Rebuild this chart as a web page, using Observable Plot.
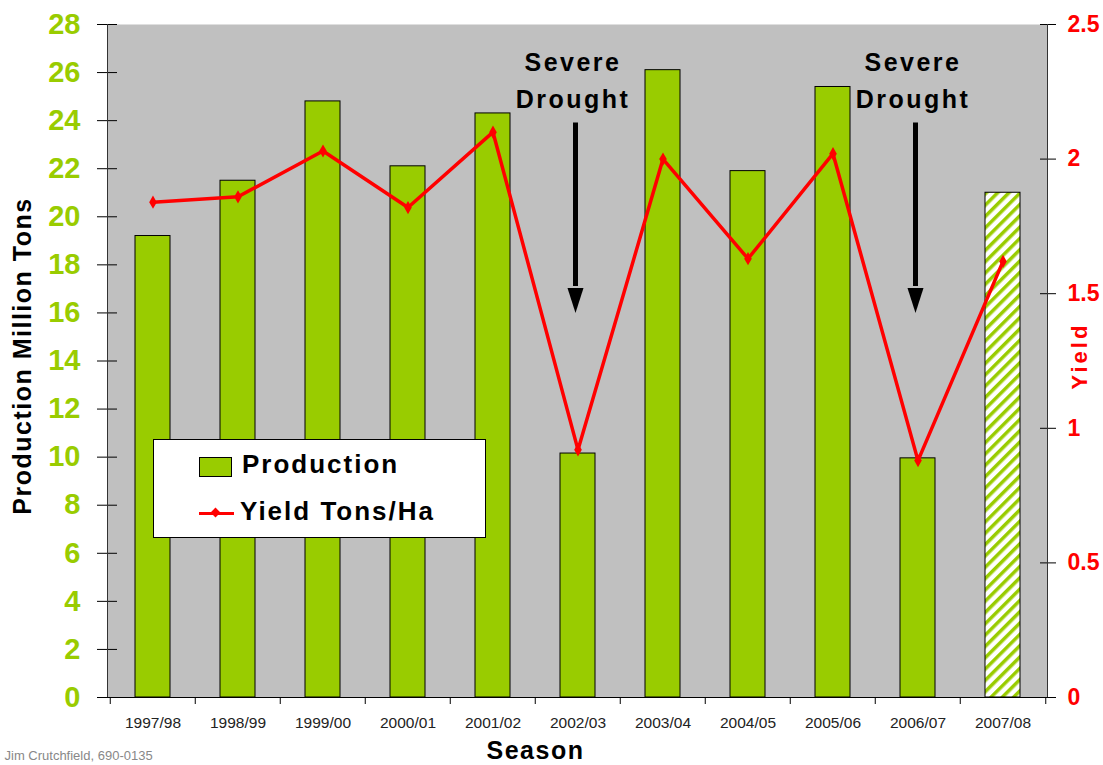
<!DOCTYPE html>
<html><head><meta charset="utf-8">
<script src="https://cdn.jsdelivr.net/npm/d3@7"></script>
<script src="https://cdn.jsdelivr.net/npm/@observablehq/plot@0.6"></script>
<style>
body{margin:0;background:#fff;font-family:"Liberation Sans",Arial,sans-serif;}
#wrap{position:relative;width:1103px;height:765px;overflow:hidden}
#legend{position:absolute;left:153px;top:439px;width:331px;height:97px;border:1px solid #000;background:#fff;font-weight:bold;font-size:26px;letter-spacing:2px;color:#000}
#legend .sw{position:absolute;left:45px;top:17px;width:31px;height:18px;background:#99cc00;border:1px solid #000}
#legend .ln{position:absolute;left:45px;top:72px;width:35px;height:3px;background:#ff0000}
#legend .mk{position:absolute;left:58px;top:69px;width:7px;height:7px;background:#ff0000;transform:rotate(45deg)}
#legend .t1{position:absolute;left:88px;top:9px;line-height:30px}
#legend .t2{position:absolute;left:86px;top:56px;line-height:30px}
</style></head><body>
<div id="wrap"><div id="chart"></div>
<div id="legend"><div class="sw"></div><div class="t1">Production</div><div class="ln"></div><div class="mk"></div><div class="t2">Yield Tons/Ha</div></div>
</div>
<script>
// ---- data ----
const seasons = ["1997/98","1998/99","1999/00","2000/01","2001/02","2002/03","2003/04","2004/05","2005/06","2006/07","2007/08"];
const production = [19.2, 21.5, 24.8, 22.1, 24.3, 10.15, 26.1, 21.9, 25.4, 9.95, 21.0];
const yieldValues = [1.84, 1.86, 2.03, 1.82, 2.10, 0.92, 2.00, 1.63, 2.02, 0.88, 1.62];
const estimatedSeasons = ["2007/08"];
const productionTicks = [0, 2, 4, 6, 8, 10, 12, 14, 16, 18, 20, 22, 24, 26, 28];
const yieldTicks = [0, 0.5, 1, 1.5, 2, 2.5];
const productionMax = 28;
const yieldMax = 2.5;
const droughtSeasons = ["2002/03", "2006/07"];
const droughtText = "Severe\nDrought";
const droughtTextLevel = 25.8;   // in production units
const arrowTop = 23.9;
const arrowHeadBase = 17.1;
const arrowTip = 16.0;
const credit = "Jim Crutchfield, 690-0135";

// ---- derived tables ----
const k = productionMax / yieldMax;
const table = seasons.map((s, i) => ({season: s, production: production[i], yield: yieldValues[i], estimated: estimatedSeasons.includes(s)}));
const actual = table.filter(d => !d.estimated);
const estimated = table.filter(d => d.estimated);
const drought = droughtSeasons.map(s => ({season: s, text: droughtText, top: arrowTop, base: arrowHeadBase, tip: arrowTip, level: droughtTextLevel}));

const arrowHead = {draw(ctx) { ctx.moveTo(-8, -25); ctx.lineTo(8, -25); ctx.lineTo(0, 0); ctx.closePath(); }};
const green = "#99cc00", grey = "#c0c0c0", red = "#ff0000";
const font = "Liberation Sans, Arial, sans-serif";
const fmt = d => d3.format("~g")(+(d / k).toFixed(3));

const chart = Plot.plot({
  width: 1103, height: 765,
  marginTop: 24, marginBottom: 68, marginLeft: 107, marginRight: 56,
  style: {fontFamily: font, background: "transparent", overflow: "visible"},
  x: {type: "band", domain: seasons, paddingInner: 0.59, paddingOuter: 0.295, label: null},
  y: {domain: [0, productionMax], label: null},
  marks: [
    Plot.frame({fill: grey, stroke: null}),
    Plot.barY(actual, {x: "season", y: "production", fill: green, stroke: "#000", strokeWidth: 1}),
    Plot.barY(estimated, {x: "season", y: "production", fill: "url(#hatch)", stroke: "#000", strokeWidth: 1}),
    Plot.lineY(table, {x: "season", y: d => d.yield * k, stroke: red, strokeWidth: 3.5}),
    Plot.dot(table, {x: "season", y: d => d.yield * k, symbol: "diamond", r: 4, fill: red}),
    Plot.ruleX(drought, {x: "season", y1: "top", y2: "base", stroke: "#000", strokeWidth: 5, dx: -2.5}),
    Plot.dot(drought, {x: "season", y: "tip", symbol: arrowHead, fill: "#000", stroke: null, dx: -2.5}),
    Plot.text(drought, {x: "season", y: "level", text: "text", fontSize: 25, fontWeight: "bold", lineHeight: 1.48, fill: "#000", dx: -5}),
    // axes
    Plot.axisY({ticks: productionTicks, tickSize: 20, dx: 10, tickPadding: 17, fill: green, stroke: "#000", fontSize: 29, fontWeight: "bold", label: null}),
    Plot.axisY({anchor: "right", ticks: yieldTicks.map(v => v * k), tickFormat: fmt, tickSize: 16, dx: -8, tickPadding: 12, fill: red, stroke: "#000", fontSize: 23, fontWeight: "bold", label: null}),
    Plot.axisX({tickSize: 0, tickPadding: 19, fontSize: 15.5, fill: "#222", label: null}),
    Plot.axisX({tickSize: 7, tickFormat: null, dx: -42.75, stroke: "#000", label: null}),
    Plot.axisX({ticks: seasons.slice(-1), tickSize: 7, tickFormat: null, dx: 42.75, stroke: "#000", label: null}),
    Plot.frame({anchor: "left", stroke: "#333"}),
    Plot.frame({anchor: "right", stroke: "#333"}),
    Plot.frame({anchor: "bottom", stroke: "#000"}),
    // axis titles
    Plot.text(["Production Million Tons"], {frameAnchor: "left", textAnchor: "middle", dx: -85, dy: -5, rotate: -90, fontSize: 25, fontWeight: "bold", fill: "#000"}),
    Plot.text(["Yield"], {frameAnchor: "right", textAnchor: "middle", dx: 32, dy: -5, rotate: -90, fontSize: 22, fontWeight: "bold", fill: red}),
    Plot.text(["Season"], {frameAnchor: "bottom", dx: -42, dy: 61, fontSize: 25, fontWeight: "bold", fill: "#000"}),
    Plot.text([credit], {frameAnchor: "bottom-left", dx: -103, dy: 53, lineAnchor: "top", textAnchor: "start", fontSize: 13, fill: "#888"})
  ]
});
const defs = d3.select(chart).insert("defs", ":first-child");
const pat = defs.append("pattern").attr("id", "hatch").attr("patternUnits", "userSpaceOnUse")
  .attr("width", 8).attr("height", 8).attr("patternTransform", "rotate(45)");
pat.append("rect").attr("width", 8).attr("height", 8).attr("fill", "#fff");
pat.append("rect").attr("width", 3.5).attr("height", 8).attr("fill", green);
// letter spacing to mimic the wide original typeface
const spacing = {"Production Million Tons": "1.5px", "Yield": "3px", "Season": "1.5px", "SevereDrought": "2.5px"};
d3.select(chart).selectAll("text").each(function() {
  const s = spacing[this.textContent];
  if (s) this.setAttribute("letter-spacing", s);
});
document.getElementById("chart").appendChild(chart);
</script>
</body></html>
